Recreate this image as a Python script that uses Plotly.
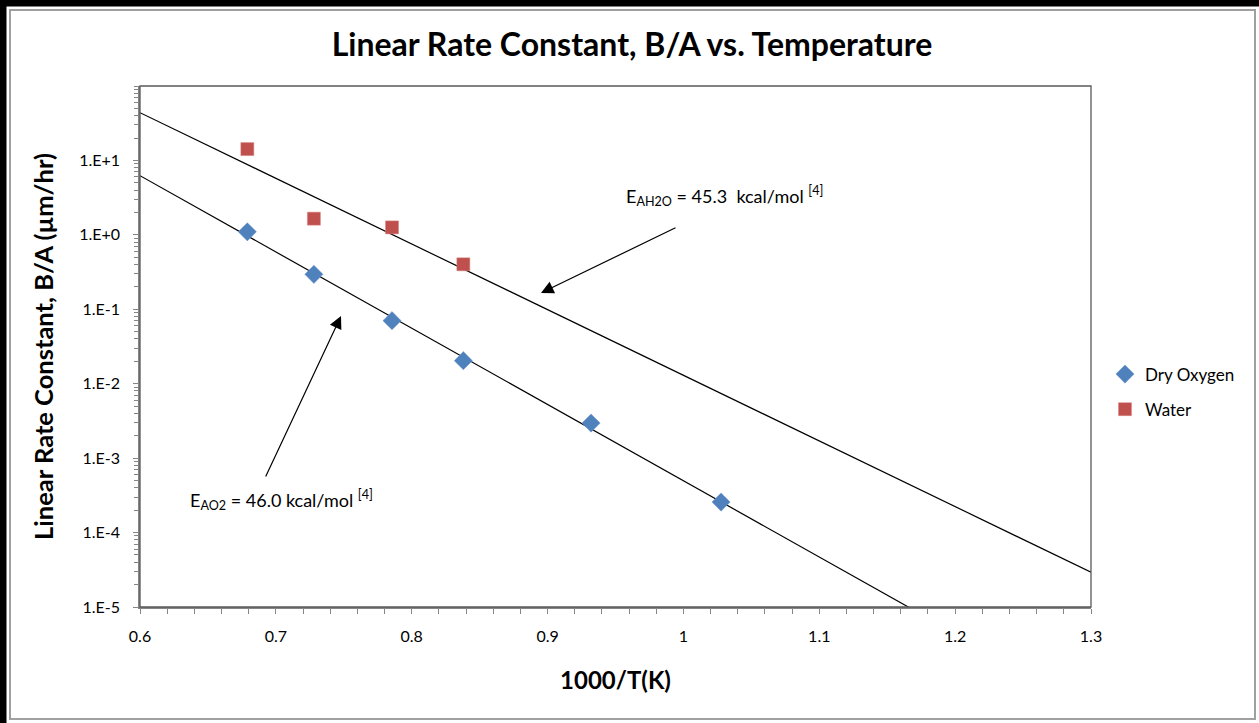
import plotly.graph_objects as go

# ---------------- data ----------------
dry_x = [0.679, 0.728, 0.7855, 0.838, 0.932, 1.0277]
dry_y = [1.10, 0.295, 0.0703, 0.0204, 0.00296, 0.000257]

water_x = [0.679, 0.728, 0.7855, 0.838]
water_y = [14.2, 1.65, 1.26, 0.402]

fit_water_x = [0.6, 0.7, 0.8, 0.9, 1.0, 1.1, 1.2, 1.3]
fit_water_y = [43.8, 5.74, 0.753, 0.0989, 0.0130, 0.00170, 0.000223, 0.0000293]

fit_dry_x = [0.6, 0.7, 0.8, 0.9, 1.0, 1.1, 1.17]
fit_dry_y = [6.24, 0.587, 0.0553, 0.00521, 0.000491, 0.0000462, 0.0000090]

y_tickvals = [1e-5, 1e-4, 1e-3, 1e-2, 1e-1, 1e0, 1e1]
y_ticktext = ["1.E-5", "1.E-4", "1.E-3", "1.E-2", "1.E-1", "1.E+0", "1.E+1"]
x_tickvals = [0.6, 0.7, 0.8, 0.9, 1.0, 1.1, 1.2, 1.3]
x_ticktext = ["0.6", "0.7", "0.8", "0.9", "1", "1.1", "1.2", "1.3"]

# ---------------- layout geometry ----------------
W, H = 1259, 723
L, R, T, B = 140, 1091, 86, 607
PW, PH = R - L, B - T

def px(xp):
    return (xp - L) / PW

def py(yp):
    return (B - yp) / PH

FONT = "Lato"
GRAY = "#868686"

fig = go.Figure()

fig.add_trace(go.Scatter(x=fit_water_x, y=fit_water_y, mode="lines",
                         line=dict(color="black", width=1.2),
                         showlegend=False, hoverinfo="skip"))
fig.add_trace(go.Scatter(x=fit_dry_x, y=fit_dry_y, mode="lines",
                         line=dict(color="black", width=1.2),
                         showlegend=False, hoverinfo="skip"))
fig.add_trace(go.Scatter(x=dry_x, y=dry_y, mode="markers", name="Dry Oxygen",
                         legendgroup="a",
                         marker=dict(symbol="diamond", size=14, color="#4F81BD",
                                     line=dict(color="#6F97CF", width=0.5))))
fig.add_trace(go.Scatter(x=water_x, y=water_y, mode="markers", name="Water",
                         legendgroup="b",
                         marker=dict(symbol="square", size=13, color="#C0504D",
                                     line=dict(color="#D98482", width=0.5))))

annotations = [
    # arrows
    dict(xref="paper", yref="paper", x=px(541), y=py(293),
         ax=677 - 541, ay=227 - 293,
         showarrow=True, arrowhead=2, arrowsize=2.1, arrowwidth=1.2,
         arrowcolor="black", text=""),
    dict(xref="paper", yref="paper", x=px(341), y=py(316),
         ax=265 - 341, ay=478 - 316,
         showarrow=True, arrowhead=2, arrowsize=2.1, arrowwidth=1.2,
         arrowcolor="black", text=""),
    # labels
    dict(xref="paper", yref="paper", x=px(724), y=py(196),
         xanchor="center", yanchor="middle",
         text="E<sub>AH2O</sub> = 45.3  kcal/mol <sup>[4]</sup>",
         showarrow=False, font=dict(family=FONT, size=18, color="black")),
    dict(xref="paper", yref="paper", x=px(281), y=py(500),
         xanchor="center", yanchor="middle",
         text="E<sub>AO2</sub> = 46.0 kcal/mol <sup>[4]</sup>",
         showarrow=False, font=dict(family=FONT, size=18, color="black")),
]

shapes = [
    # outer black frame (top/left thick)
    dict(type="line", xref="paper", yref="paper",
         x0=px(0), x1=px(1259), y0=py(3), y1=py(3),
         line=dict(color="black", width=7)),
    dict(type="line", xref="paper", yref="paper",
         x0=px(3), x1=px(3), y0=py(0), y1=py(723),
         line=dict(color="black", width=7)),
    # inner gray frame
    dict(type="rect", xref="paper", yref="paper",
         x0=px(10), x1=px(1255), y0=py(719), y1=py(10),
         line=dict(color="#a0a0a0", width=2)),
    # plot area border (top/right darker)
    dict(type="rect", xref="paper", yref="paper",
         x0=0, x1=1, y0=0, y1=1,
         line=dict(color="#595959", width=1.3)),
]

fig.update_layout(
    width=W, height=H,
    margin=dict(l=L, r=W - R, t=T, b=H - B),
    paper_bgcolor="white", plot_bgcolor="white",
    title=dict(text="<b>Linear Rate Constant, B/A vs. Temperature</b>",
               x=632 / W, xanchor="center", y=1 - 45 / H, yanchor="middle",
               font=dict(family=FONT, size=32, color="black")),
    showlegend=True,
    legend=dict(x=px(1105), xanchor="left", y=py(392), yanchor="middle",
                font=dict(family=FONT, size=17, color="black"),
                bgcolor="rgba(0,0,0,0)", tracegroupgap=10,
                itemwidth=30),
    annotations=annotations,
    shapes=shapes,
    font=dict(family=FONT, color="black"),
)

fig.update_xaxes(
    range=[0.6, 1.3], showgrid=False, zeroline=False,
    showline=True, linecolor=GRAY, linewidth=1.5,
    ticks="outside", ticklen=5, tickcolor=GRAY, tickwidth=1,
    tickvals=x_tickvals, ticktext=x_ticktext,
    ticklabelstandoff=9,
    tickfont=dict(family=FONT, size=16, color="black"),
    minor=dict(ticks="outside", ticklen=5, tickcolor=GRAY, dtick=0.02,
               showgrid=False),
    title=dict(text="<b>1000/T(K)</b>", standoff=28,
               font=dict(family=FONT, size=24, color="black")),
)

fig.update_yaxes(
    type="log", range=[-5, 2], showgrid=False, zeroline=False,
    showline=True, linecolor=GRAY, linewidth=1.5,
    ticks="outside", ticklen=5, tickcolor=GRAY, tickwidth=1,
    tickvals=y_tickvals, ticktext=y_ticktext,
    ticklabelstandoff=10,
    tickfont=dict(family=FONT, size=16, color="black"),
    minor=dict(ticks="outside", ticklen=4, tickcolor=GRAY, dtick="D1",
               showgrid=False),
    title=dict(text="<b>Linear Rate Constant, B/A (µm/hr)</b>", standoff=18,
               font=dict(family=FONT, size=25.5, color="black")),
)

fig.write_html("out.html")
